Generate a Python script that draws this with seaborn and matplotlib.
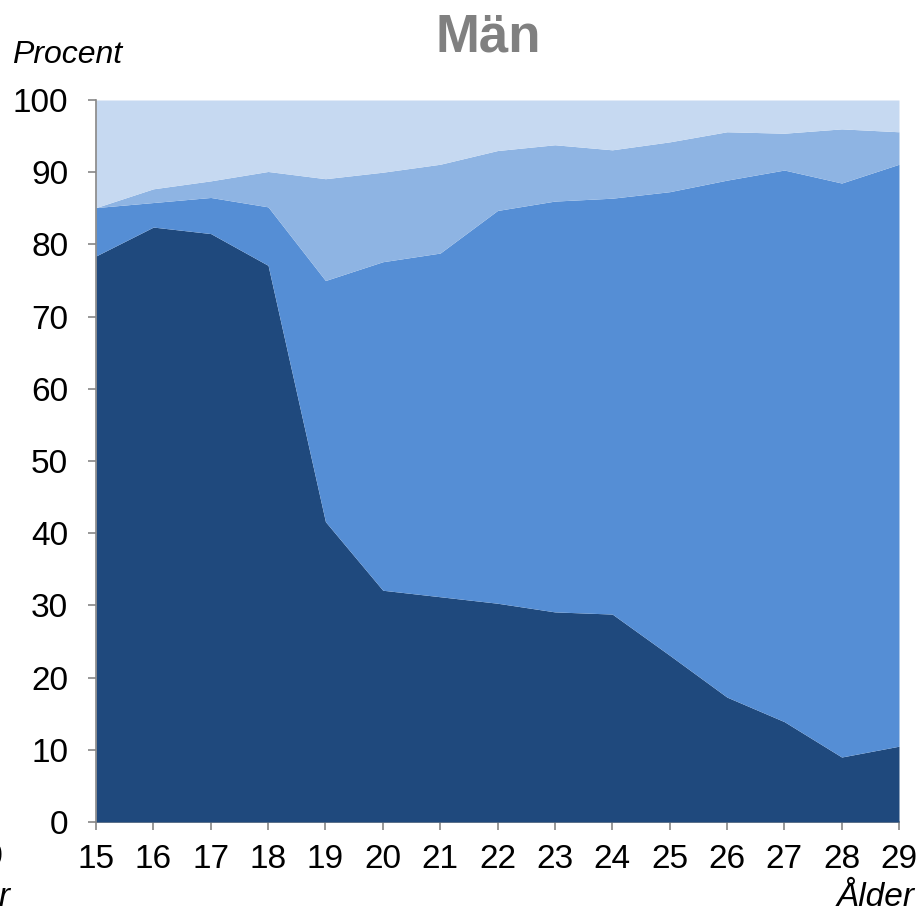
import numpy as np
import matplotlib
matplotlib.use("Agg")
import matplotlib.pyplot as plt
import seaborn as sns

ages = [15, 16, 17, 18, 19, 20, 21, 22, 23, 24, 25, 26, 27, 28, 29]
layer1 = [78.4, 82.4, 81.5, 77.1, 41.6, 32.1, 31.2, 30.3, 29.1, 28.8, 23.1, 17.3, 13.9, 9.0, 10.5]
layer2 = [6.7, 3.4, 5.0, 8.1, 33.4, 45.5, 47.6, 54.4, 56.9, 57.6, 64.2, 71.6, 76.4, 79.5, 80.6]
layer3 = [0.0, 1.9, 2.3, 4.9, 14.1, 12.4, 12.3, 8.3, 7.8, 6.7, 6.9, 6.7, 5.1, 7.5, 4.5]
layer4 = [14.9, 12.3, 11.2, 9.9, 10.9, 10.0, 8.9, 7.0, 6.2, 6.9, 5.8, 4.4, 4.6, 4.0, 4.4]
colors = ["#1F497D", "#558ED5", "#8EB4E3", "#C6D9F1"]
yticks = [0, 10, 20, 30, 40, 50, 60, 70, 80, 90, 100]

sns.set_style("white")
plt.rcParams['font.family'] = ['Liberation Sans', 'DejaVu Sans']

W, H = 923, 916
fig = plt.figure(figsize=(W / 100, H / 100), dpi=100)
ax = fig.add_axes([96 / W, 1 - 822 / H, (899 - 96) / W, (822 - 100) / H])

ax.stackplot(ages, layer1, layer2, layer3, layer4, colors=colors, linewidth=0)

ax.set_xlim(15, 29)
ax.set_ylim(0, 100)
ax.set_xticks(ages)
ax.set_yticks(yticks)
ax.margins(0)

for s in ["top", "right"]:
    ax.spines[s].set_visible(False)
for s in ["left", "bottom"]:
    ax.spines[s].set_color("#868686")
    ax.spines[s].set_linewidth(1.2)
ax.spines["bottom"].set_zorder(0)

ax.tick_params(axis="both", direction="out", length=6, width=1.2, color="#868686",
               labelsize=24, labelcolor="black")
ax.tick_params(axis="y", pad=14)
ax.tick_params(axis="x", pad=10)
ax.tick_params(left=True, bottom=True)

fig.text(488 / W, 1 - 37 / H, "Män", ha="center", va="center", fontsize=38,
         fontweight="bold", color="#808080")
fig.text(12 / W, 1 - 55 / H, "Procent", ha="left", va="center", fontsize=23,
         style="italic", color="black")
fig.text(915 / W, 1 - 897 / H, "Ålder", ha="right", va="center", fontsize=24,
         style="italic", color="black")
# clipped pieces of neighbouring chart
fig.text(11 / W, 1 - 897 / H, "Ålder", ha="right", va="center", fontsize=24,
         style="italic", color="black")
fig.text(4 / W, 1 - 858 / H, "29", ha="right", va="center", fontsize=24, color="black")

fig.savefig("out.png", dpi=100)
